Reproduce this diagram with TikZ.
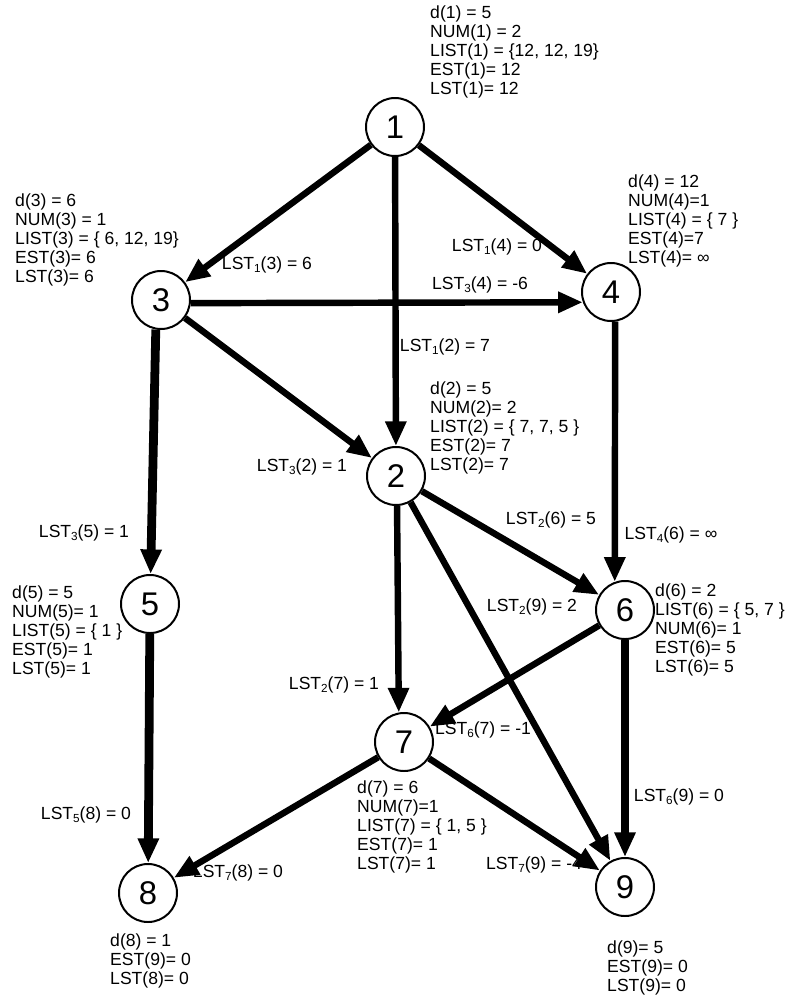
\documentclass[tikz,border=0pt]{standalone}
\usepackage{fontspec}
\setmainfont{Liberation Sans}
\usetikzlibrary{arrows.meta}
\newcommand\lsub[1]{\raisebox{-0.35ex}{\fontsize{10}{10}\selectfont #1}}
\begin{document}
\begin{tikzpicture}[x=0.03cm,y=-0.03cm,
  vtx/.style={circle,draw,line width=1.7pt,minimum size=1.74cm,inner sep=0pt,font=\fontsize{28}{28}\selectfont},
  info/.style={anchor=north west,align=left,inner sep=0pt,font=\fontsize{15}{16.2}\selectfont},
  lbl/.style={inner sep=0pt,font=\fontsize{15}{16.2}\selectfont},
  arr/.style={line width=5.5pt,-{Triangle[length=21pt,width=17pt]}},
  arrthick/.style={arr,line width=7.5pt}]
\useasboundingbox (0,0) rectangle (800,998);
% vertices
\node[vtx] (n1) at (395,127) {1};
\node[vtx] (n3) at (161,300) {3};
\node[vtx] (n4) at (611,292) {4};
\node[vtx] (n2) at (396,476) {2};
\node[vtx] (n5) at (150,604) {5};
\node[vtx] (n6) at (625,610) {6};
\node[vtx] (n7) at (404,742) {7};
\node[vtx] (n8) at (148,893) {8};
\node[vtx] (n9) at (625,887) {9};
% edges
\draw[arr] (n1) -- (n3);
\draw[arr] (n1) -- (n2);
\draw[arr] (n1) -- (n4);
\draw[arr] (n3.-6) -- (n4.200);
\draw[arr] (n3) -- (n2);
\draw[arrthick] (n3.-100) -- (n5);
\draw[arr] (n4.-82) -- (n6.110);
\draw[arr] (n2) -- (n6);
\draw[arr] (n2.-88) -- (n7.100);
\draw[arr] (n2) -- (n9);
\draw[arrthick] (n5) -- (n8);
\draw[arr] (n6) -- (n7);
\draw[arrthick] (n6) -- (n9);
\draw[arr] (n7) -- (n8);
\draw[arr] (n7) -- (n9);
% edge labels
\node[lbl] (l13) at (267,265) {LST\lsub{1}(3) = 6};
\node[lbl] (l14) at (497,247) {LST\lsub{1}(4) = 0};
\node[lbl] (l34) at (480,285) {LST\lsub{3}(4) = -6};
\node[lbl] (l12) at (445,347) {LST\lsub{1}(2) = 7};
\node[lbl] (l32) at (302,467) {LST\lsub{3}(2) = 1};
\node[lbl] (l26) at (551,520) {LST\lsub{2}(6) = 5};
\node[lbl] (l46) at (671,535) {LST\lsub{4}(6) = ∞};
\node[lbl] (l35) at (84,533) {LST\lsub{3}(5) = 1};
\node[lbl] (l29) at (532,607) {LST\lsub{2}(9) = 2};
\node[lbl] (l27) at (334,685) {LST\lsub{2}(7) = 1};
\node[lbl] (l67) at (483,730) {LST\lsub{6}(7) = -1};
\node[lbl] (l69) at (679,797) {LST\lsub{6}(9) = 0};
\node[lbl] (l58) at (86,815) {LST\lsub{5}(8) = 0};
\node[lbl] (l78) at (238,873) {LST\lsub{7}(8) = 0};
\node[lbl] (l79) at (534,865) {LST\lsub{7}(9) = -4};
% info blocks
\node[info] (i1) at (430,6) {d(1) = 5\\NUM(1) = 2\\LIST(1) = \{12, 12, 19\}\\EST(1)= 12\\LST(1)= 12};
\node[info] (i3) at (15,194) {d(3) = 6\\NUM(3) = 1\\LIST(3) = \{ 6, 12, 19\}\\EST(3)= 6\\LST(3)= 6};
\node[info] (i4) at (628,175) {d(4) = 12\\NUM(4)=1\\LIST(4) = \{ 7 \}\\EST(4)=7\\LST(4)= ∞};
\node[info] (i2) at (430,382) {d(2) = 5\\NUM(2)= 2\\LIST(2) = \{ 7, 7, 5 \}\\EST(2)= 7\\LST(2)= 7};
\node[info] (i5) at (12,586) {d(5) = 5\\NUM(5)= 1\\LIST(5) = \{ 1 \}\\EST(5)= 1\\LST(5)= 1};
\node[info] (i6) at (655,584) {d(6) = 2\\LIST(6) = \{ 5, 7 \}\\NUM(6)= 1\\EST(6)= 5\\LST(6)= 5};
\node[info] (i7) at (357,781) {d(7) = 6\\NUM(7)=1\\LIST(7) = \{ 1, 5 \}\\EST(7)= 1\\LST(7)= 1};
\node[info] (i8) at (110,934) {d(8) = 1\\EST(9)= 0\\LST(8)= 0};
\node[info] (i9) at (607,941) {d(9)= 5\\EST(9)= 0\\LST(9)= 0};
\end{tikzpicture}
\end{document}
